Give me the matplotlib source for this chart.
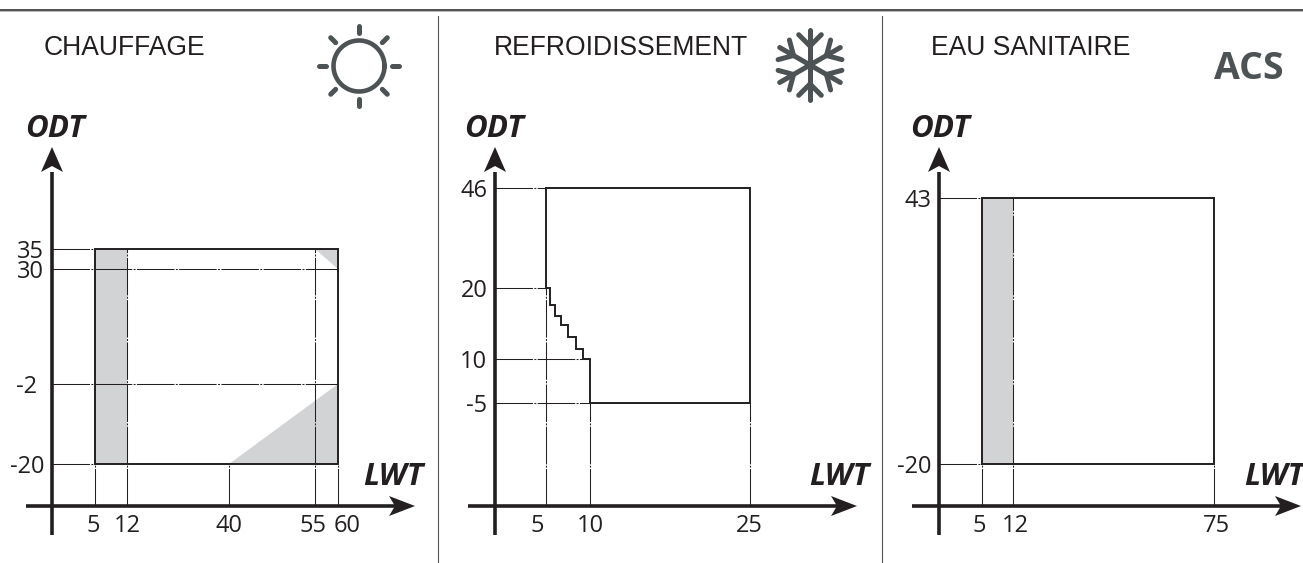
import numpy as np
import matplotlib
matplotlib.use('Agg')
import matplotlib.pyplot as plt
from matplotlib.transforms import ScaledTranslation

plt.rcParams['lines.scale_dashes'] = False

# Operating envelope data (LWT = leaving water temp, ODT = outdoor temp)
heat_x_ticks = [5, 12, 40, 55, 60]
heat_y_ticks = [-20, -2, 30, 35]
heat_outline_x = [5, 60, 60, 5, 5]
heat_outline_y = [-20, -20, 35, 35, -20]
heat_shade = [
    ([5, 12, 12, 5], [-20, -20, 35, 35]),
    ([40, 60, 60], [-20, -20, -2]),
    ([55, 60, 60], [35, 35, 30]),
]
heat_hguides = [(35, 5), (30, 60), (-2, 60), (-20, 5)]
heat_vguides = [(5, -20), (12, 35), (40, -20), (55, 35), (60, -20)]

cool_x_ticks = [5, 10, 25]
cool_y_ticks = [-5, 10, 20, 46]
cool_outline_x = [5, 25, 25, 10, 10, 9.2, 9.2, 8.4, 8.4, 7.5, 7.5, 6.7, 6.7, 6.0, 6.0, 5.45, 5.45, 5, 5]
cool_outline_y = [46, 46, -5, -5, 10, 10, 11.4, 11.4, 13.1, 13.1, 14.8, 14.8, 16.1, 16.1, 17.6, 17.6, 20, 20, 46]
cool_hguides = [(46, 5), (20, 5), (10, 10), (-5, 10)]
cool_vguides = [(5, 20), (10, -5), (25, -5)]

dhw_x_ticks = [5, 12, 75]
dhw_y_ticks = [-20, 43]
dhw_outline_x = [5, 75, 75, 5, 5]
dhw_outline_y = [-20, -20, 43, 43, -20]
dhw_shade = [([5, 12, 12, 5], [-20, -20, 43, 43])]
dhw_hguides = [(43, 5), (-20, 5)]
dhw_vguides = [(5, -20), (12, 43), (75, -20)]

INK = '#231f20'
ICON = '#4d5354'
GREY = '#d1d3d4'
W, H = 1303, 563
AXIS_Y = 506
DASH = (0, (27, 1, 1.4, 1))

fig = plt.figure(figsize=(W / 100, H / 100), dpi=100)

# Page level layer in pixels: separators, axis arrows, titles, icons
page = fig.add_axes([0, 0, 1, 1])
page.set_xlim(0, W)
page.set_ylim(H, 0)
page.axis('off')

page.plot([0, W], [9.5, 9.5], color=INK, lw=1.1)
page.plot([0, W], [10.5, 10.5], color='#b5b5b5', lw=0.7)
page.plot([438, 438], [16, H], color='#555555', lw=0.8)
page.plot([882, 882], [16, H], color='#555555', lw=0.8)


def draw_axes_arrows(x0, left, tip):
    page.plot([x0, x0], [172, 535], color=INK, lw=2.6, solid_capstyle='butt')
    page.plot([left, tip - 20], [AXIS_Y, AXIS_Y], color=INK, lw=2.6, solid_capstyle='butt')
    page.fill([x0, x0 + 11, x0, x0 - 11], [147, 172, 166, 172], color=INK, lw=0)
    page.fill([tip, tip - 26, tip - 20, tip - 26], [AXIS_Y, AXIS_Y - 10, AXIS_Y, AXIS_Y + 10], color=INK, lw=0)


def make_panel(x_vals, x_pix, y_vals, y_pix, x_offs, y_offs):
    # Axis values are not to scale on the original, so map them piecewise
    left, right = x_pix[0], x_pix[-1]
    top, bottom = y_pix[-1], y_pix[0]
    ax = fig.add_axes([left / W, 1 - bottom / H, (right - left) / W, (bottom - top) / H])
    ax.patch.set_visible(False)
    for s in ax.spines.values():
        s.set_visible(False)
    y_up = [bottom - p for p in y_pix]
    x_up = [p - left for p in x_pix]
    ax.set_xscale('function', functions=(lambda v: np.interp(v, x_vals, x_up),
                                         lambda p: np.interp(p, x_up, x_vals)))
    ax.set_yscale('function', functions=(lambda v: np.interp(v, y_vals, y_up),
                                         lambda p: np.interp(p, y_up, y_vals)))
    ax.set_xlim(x_vals[0], x_vals[-1])
    ax.set_ylim(y_vals[0], y_vals[-1])
    ax.set_xticks(x_vals[1:], [str(v) for v in x_vals[1:]])
    ax.set_yticks(y_vals[1:], [str(v) for v in y_vals[1:]])
    ax.minorticks_off()
    ax.tick_params(axis='x', length=0, pad=6)
    ax.tick_params(axis='y', length=0, pad=5.5)
    # Nudge labels that sit off their guide line
    for lab, off in zip(ax.get_xticklabels(), x_offs):
        lab.set(family='Open Sans', fontsize=17, color=INK)
        lab.set_transform(lab.get_transform() + ScaledTranslation(off / 100, 0, fig.dpi_scale_trans))
    for lab, off in zip(ax.get_yticklabels(), y_offs):
        lab.set(family='Open Sans', fontsize=17, color=INK)
        lab.set_transform(lab.get_transform() + ScaledTranslation(off / 100, 0, fig.dpi_scale_trans))
    return ax


def draw_envelope(ax, outline_x, outline_y, shades, hguides, vguides):
    x_start, y_start = ax.get_xlim()[0], ax.get_ylim()[0]
    for sx, sy in shades:
        ax.fill(sx, sy, color=GREY, lw=0, zorder=1)
    for val, end in hguides:
        ax.plot([x_start, end], [val, val], color=INK, lw=0.75, ls=DASH, zorder=2, clip_on=False)
    for val, end in vguides:
        ax.plot([val, val], [y_start, end], color=INK, lw=0.75, ls=DASH, zorder=2, clip_on=False)
    ax.plot(outline_x, outline_y, color=INK, lw=1.4, zorder=3, clip_on=False, solid_joinstyle='miter')


# Chauffage
draw_axes_arrows(52, 26, 415)
ax1 = make_panel([0] + heat_x_ticks, [52, 95, 127, 229, 315, 338],
                 [-30] + heat_y_ticks, [AXIS_Y, 464, 384, 269, 248.5],
                 [-2, 0, 0, -2, 9], [0, -7, 0, 0])
draw_envelope(ax1, heat_outline_x, heat_outline_y, heat_shade, heat_hguides, heat_vguides)

# Refroidissement
draw_axes_arrows(495, 468, 857)
ax2 = make_panel([0] + cool_x_ticks, [495, 546, 590, 750],
                 [-15] + cool_y_ticks, [AXIS_Y, 403, 359, 288, 188],
                 [-9, 0, -1], [0, 0, 0, 0])
draw_envelope(ax2, cool_outline_x, cool_outline_y, [], cool_hguides, cool_vguides)

# Eau sanitaire
draw_axes_arrows(939, 912, 1301)
ax3 = make_panel([0] + dhw_x_ticks, [939, 981.5, 1013, 1214],
                 [-30] + dhw_y_ticks, [AXIS_Y, 464, 198],
                 [-2, 2, 2], [0, 0])
draw_envelope(ax3, dhw_outline_x, dhw_outline_y, dhw_shade, dhw_hguides, dhw_vguides)

# Titles and axis names
for x, name in [(44, 'CHAUFFAGE'), (494, 'REFROIDISSEMENT'), (931, 'EAU SANITAIRE')]:
    page.text(x, 48, name, family='Liberation Sans', fontsize=19.1, color=INK, ha='left', va='center')
for x in [25, 464, 910]:
    page.text(x, 129, 'ODT', family='Open Sans', fontsize=22.5, weight='bold', style='italic',
              color=INK, ha='left', va='center')
for x in [363, 809, 1244]:
    page.text(x, 477, 'LWT', family='Open Sans', fontsize=22.5, weight='bold', style='italic',
              color=INK, ha='left', va='center')
page.text(1249, 69, 'ACS', family='Open Sans', fontsize=27, weight='bold', color=ICON,
          ha='center', va='center')

# Sun icon
sun_x, sun_y = 359, 66
theta = np.linspace(0, 2 * np.pi, 100)
page.plot(sun_x + 25.5 * np.cos(theta), sun_y + 25.5 * np.sin(theta), color=ICON, lw=3.3)
for a in np.radians(np.arange(0, 360, 45)):
    page.plot([sun_x + 33 * np.cos(a), sun_x + 40 * np.cos(a)],
              [sun_y + 33 * np.sin(a), sun_y + 40 * np.sin(a)],
              color=ICON, lw=3.6, solid_capstyle='round')

# Snowflake icon
snow_x, snow_y = 810, 65
for a in np.radians(np.arange(30, 390, 60)):
    ux, uy = np.cos(a), np.sin(a)
    page.plot([snow_x, snow_x + 35 * ux], [snow_y, snow_y + 35 * uy],
              color=ICON, lw=3.6, solid_capstyle='round')
    for turn in [-np.pi / 4, np.pi / 4]:
        bx, by = np.cos(a + turn), np.sin(a + turn)
        px, py = snow_x + 19 * ux, snow_y + 19 * uy
        page.plot([px, px + 16 * bx], [py, py + 16 * by],
                  color=ICON, lw=3.6, solid_capstyle='round')

fig.savefig('out.png', dpi=100, facecolor='white')
